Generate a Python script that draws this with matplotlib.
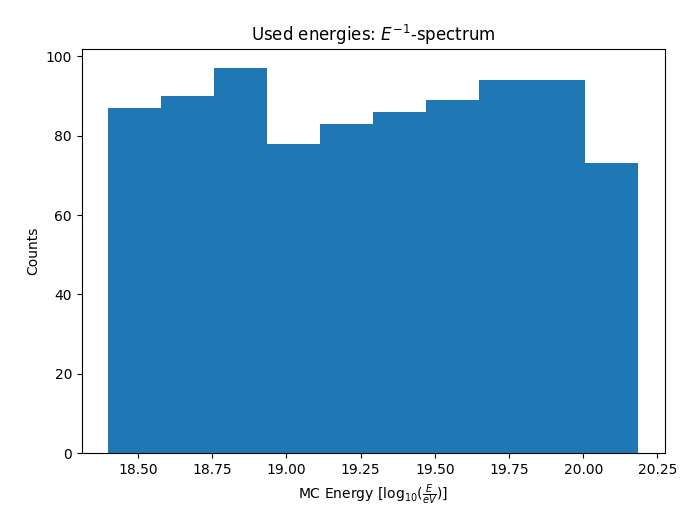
import numpy as np
import matplotlib
matplotlib.use("Agg")
import matplotlib.pyplot as plt

counts = [87, 90, 97, 78, 83, 86, 89, 94, 94, 73]
energy_min = 18.4
energy_max = 20.186
n_bins = 10

edges = np.linspace(energy_min, energy_max, n_bins + 1)
centers = (edges[:-1] + edges[1:]) / 2

fig = plt.figure(figsize=(6.93, 5.2), dpi=100)
ax = fig.add_axes([0.118, 0.1288, 0.8416, 0.777])
ax.hist(centers, bins=edges, weights=counts, color="#1f77b4")
ax.set_title(r"Used energies: $E^{-1}$-spectrum")
ax.set_xlabel(r"MC Energy [log$_{10}(\frac{E}{eV})$]")
ax.set_ylabel("Counts")
fig.savefig("out.png", dpi=100)
